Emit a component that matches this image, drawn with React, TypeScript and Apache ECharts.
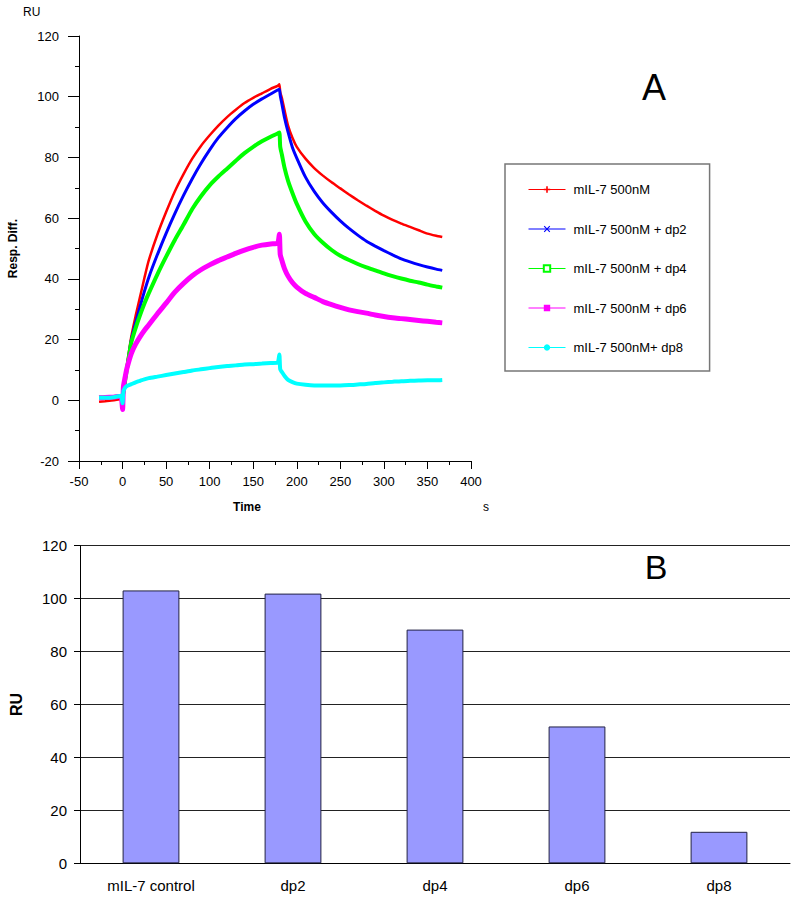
import { useEffect, useRef } from 'react';
import * as echarts from 'echarts';

// sensorgram sample times (s)
const TIME = [
  -27, -20, -10, -2, 0, 1, 3, 5, 10, 15, 20, 25, 30, 40, 50, 60, 70, 80, 90, 100, 110, 120, 130, 140, 150,
  160, 170, 178, 180, 181, 183, 186, 190, 195, 200, 210, 220, 230, 240, 250, 260, 270, 280, 290, 300, 310,
  320, 330, 340, 350, 360, 367,
];

const RED = [
  -0.5, -0.3, 0.0, 0.4, 0.8, 2.5, 7, 11.5, 20.9, 27.8, 34, 40.2, 46, 54.6, 62, 68.8, 74.5, 79.6, 83.8, 87.3,
  90.5, 93.3, 95.7, 97.9, 99.6, 101.1, 102.6, 103.6, 104.1, 101.5, 99.5, 95.5, 90.5, 86.5, 83.5, 79.6, 76.5,
  74.0, 71.8, 69.8, 67.8, 65.9, 64.1, 62.4, 60.8, 59.4, 58.2, 57.1, 56.0, 54.9, 54.2, 53.8,
];
const BLUE = [
  0.8, 0.9, 1.1, 1.4, 1.6, 2.5, 6.5, 10.5, 19.8, 25.5, 30.8, 35.8, 40.4, 48, 55, 61.5, 67.5, 73, 78, 82.5,
  86.5, 89.8, 92.8, 95.3, 97.5, 99.3, 100.9, 102.2, 102.5, 100.5, 97.5, 93, 88.3, 83.3, 79.8, 73.5, 68.8, 65,
  61.9, 59.1, 56.6, 54.4, 52.4, 50.8, 49.3, 47.9, 46.6, 45.6, 44.7, 43.9, 43.2, 42.8,
];
const GREEN = [
  0.9, 1.0, 1.1, 1.4, 1.6, 2.5, 6.5, 10.3, 19, 23.8, 28, 31.8, 35.2, 41.5, 47.3, 52.8, 57.8, 63, 67.2, 70.8,
  73.7, 76.3, 78.9, 81.4, 83.5, 85.3, 86.8, 87.9, 88.2, 83.5, 80.8, 76.5, 72.3, 68.3, 64.7, 58.9, 54.8, 51.9,
  49.5, 47.6, 46.2, 44.9, 43.8, 42.8, 41.8, 40.9, 40.1, 39.4, 38.8, 38.1, 37.5, 37.1,
];
const MAGENTA = [
  0.8, 0.9, 1.1, 1.3, -3, 4.5, 7.7, 10.5, 15.4, 18.5, 20.9, 23, 24.8, 28.5, 32, 35.6, 38.5, 41, 43, 44.6, 46,
  47.2, 48.4, 49.5, 50.4, 51.1, 51.5, 51.7, 54.7, 48, 46, 43.3, 40.9, 38.8, 37.3, 35.2, 33.9, 32.5, 31.5,
  30.6, 29.8, 29.2, 28.7, 28.1, 27.6, 27.2, 26.9, 26.6, 26.3, 26.0, 25.7, 25.5,
];
const CYAN = [
  0.8, 0.8, 1.0, 1.5, -1.0, 3, 4.2, 4.7, 5.3, 5.9, 6.4, 6.9, 7.3, 7.8, 8.3, 8.8, 9.3, 9.8, 10.2, 10.6, 11.0,
  11.3, 11.5, 11.8, 11.9, 12.1, 12.3, 12.4, 15.1, 10.2, 9.3, 8.0, 6.7, 6.0, 5.5, 5.1, 4.9, 4.9, 4.9, 4.9,
  5.0, 5.2, 5.4, 5.7, 5.9, 6.1, 6.3, 6.4, 6.5, 6.6, 6.6, 6.7,
];

const CURVE_NAMES = [
  'mIL-7 500nM',
  'mIL-7 500nM + dp2',
  'mIL-7 500nM + dp4',
  'mIL-7 500nM + dp6',
  'mIL-7 500nM+ dp8',
];

// panel B
const BAR_CATEGORIES = ['mIL-7 control', 'dp2', 'dp4', 'dp6', 'dp8'];
const BAR_VALUES = [103.1, 101.9, 88.3, 51.7, 11.9];

const FONT = "'Liberation Sans', Arial, sans-serif";

const PLUS = 'path://M3,0H5V3H8V5H5V8H3V5H0V3H3Z';
const CROSS = 'path://M0,1L1,0L4,3L7,0L8,1L5,4L8,7L7,8L4,5L1,8L0,7L3,4Z';

export default function App() {
  const chartRef = useRef<HTMLDivElement>(null);

  useEffect(() => {
    document.body.style.margin = '0';
    if (!chartRef.current) return;
    const chart = echarts.init(chartRef.current, null, { renderer: 'svg' });

    const curves = [
      { values: RED, color: '#ff0000', width: 2.5, symbol: PLUS },
      { values: BLUE, color: '#0000ff', width: 3, symbol: CROSS },
      { values: GREEN, color: '#00ff00', width: 4, symbol: 'emptyRect' },
      { values: MAGENTA, color: '#ff00ff', width: 5, symbol: 'rect' },
      { values: CYAN, color: '#00ffff', width: 4, symbol: 'circle' },
    ];

    chart.setOption({
      animation: false,
      textStyle: { fontFamily: FONT },
      grid: [
        { left: 79, top: 36, width: 392, height: 425 },
        { left: 76, top: 545.7, width: 714, height: 317.6 },
      ],
      legend: {
        data: CURVE_NAMES,
        orient: 'vertical',
        left: 505,
        top: 164,
        padding: [19, 23, 17, 23],
        borderColor: '#777',
        borderWidth: 1.5,
        itemWidth: 37,
        itemHeight: 8,
        itemGap: 26.5,
        lineStyle: { width: 1 },
        textStyle: { fontSize: 13, color: '#000', fontFamily: FONT, padding: [0, 0, 0, 3] },
      },
      xAxis: [
        {
          gridIndex: 0,
          type: 'value',
          min: -50,
          max: 400,
          interval: 50,
          axisLine: { onZero: false, lineStyle: { color: '#000' } },
          axisTick: { length: 8, lineStyle: { color: '#000' } },
          minorTick: { show: true, splitNumber: 2, length: 4, lineStyle: { color: '#000' } },
          splitLine: { show: false },
          axisLabel: { fontSize: 13, color: '#000', margin: 14 },
        },
        {
          gridIndex: 1,
          type: 'category',
          data: BAR_CATEGORIES,
          axisLine: { lineStyle: { color: '#000' } },
          axisTick: { length: 6, lineStyle: { color: '#000' } },
          axisLabel: { fontSize: 15, color: '#000', margin: 15 },
        },
      ],
      yAxis: [
        {
          gridIndex: 0,
          type: 'value',
          min: -20,
          max: 120,
          interval: 20,
          name: 'Resp. Diff.',
          nameLocation: 'middle',
          nameRotate: 90,
          nameGap: 60,
          nameTextStyle: { fontSize: 12, fontWeight: 'bold', color: '#000' },
          axisLine: { show: true, onZero: false, lineStyle: { color: '#000' } },
          axisTick: { length: 11, lineStyle: { color: '#000' } },
          minorTick: { show: true, splitNumber: 2, length: 4, lineStyle: { color: '#000' } },
          splitLine: { show: false },
          axisLabel: { fontSize: 13, color: '#000', margin: 20 },
        },
        {
          gridIndex: 1,
          type: 'value',
          min: 0,
          max: 120,
          interval: 20,
          name: 'RU',
          nameLocation: 'middle',
          nameRotate: 90,
          nameGap: 56,
          nameTextStyle: { fontSize: 16, fontWeight: 'bold', color: '#000' },
          axisLine: { show: true, lineStyle: { color: '#000' } },
          axisTick: { show: true, length: 6, lineStyle: { color: '#000' } },
          splitLine: { lineStyle: { color: '#222', width: 1 } },
          axisLabel: { fontSize: 15, color: '#000', margin: 13 },
        },
      ],
      series: [
        ...curves.map((c, i) => ({
          name: CURVE_NAMES[i],
          type: 'line',
          xAxisIndex: 0,
          yAxisIndex: 0,
          data: TIME.map((t, k) => [t, c.values[k]]),
          symbol: c.symbol,
          showSymbol: false,
          smooth: 0.2,
          color: c.color,
          lineStyle: { color: c.color, width: c.width },
          itemStyle: { color: c.color },
        })),
        {
          name: 'RU',
          type: 'bar',
          xAxisIndex: 1,
          yAxisIndex: 1,
          data: BAR_VALUES,
          barWidth: '40%',
          itemStyle: { color: '#9999ff', borderColor: '#222244', borderWidth: 1 },
        },
      ],
      graphic: [
        {
          type: 'text',
          left: 23,
          top: 6,
          style: { text: 'RU', fontSize: 12, fill: '#000', fontFamily: FONT },
        },
        {
          type: 'text',
          x: 247,
          y: 507,
          style: {
            text: 'Time',
            fontSize: 12,
            fontWeight: 'bold',
            fill: '#000',
            fontFamily: FONT,
            align: 'center',
            verticalAlign: 'middle',
          },
        },
        {
          type: 'text',
          x: 486,
          y: 507,
          style: { text: 's', fontSize: 12, fill: '#000', fontFamily: FONT, align: 'center', verticalAlign: 'middle' },
        },
        {
          type: 'text',
          x: 654,
          y: 87,
          style: { text: 'A', fontSize: 36, fill: '#000', fontFamily: FONT, align: 'center', verticalAlign: 'middle' },
        },
        {
          type: 'text',
          x: 656,
          y: 567,
          style: { text: 'B', fontSize: 34, fill: '#000', fontFamily: FONT, align: 'center', verticalAlign: 'middle' },
        },
      ],
    });

    return () => {
      chart.dispose();
    };
  }, []);

  return <div ref={chartRef} style={{ width: 800, height: 903 }} />;
}
